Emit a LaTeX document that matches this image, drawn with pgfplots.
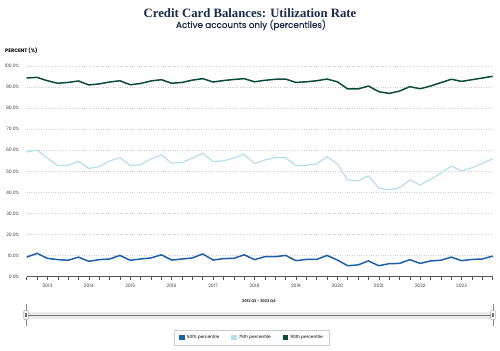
\documentclass[border=0pt]{standalone}
\usepackage{fontspec}
\setmainfont{Liberation Serif}
\setsansfont{Poppins}
\newfontfamily\subfont[FakeBold=0.4]{Poppins}
\usepackage{pgfplots}
\usepackage{pgfplotstable}
\pgfplotsset{compat=1.18}
\definecolor{pFifty}{HTML}{1F5FA8}
\definecolor{pSevfive}{HTML}{B8DCF0}
\definecolor{pNinety}{HTML}{0E4A3B}
\definecolor{navy}{HTML}{1B2A4A}
\definecolor{gridc}{HTML}{CDCDCD}
\definecolor{axc}{HTML}{555555}

\pgfplotstableread{
idx p50 p75 p90
0 9.3 59.2 94.3
1 11.1 60.1 94.6
2 8.7 56.2 93.0
3 8.1 52.8 91.8
4 7.8 52.9 92.2
5 9.3 54.8 92.9
6 7.3 51.4 91.0
7 8.1 52.2 91.5
8 8.4 54.9 92.4
9 10.1 56.5 93.0
10 7.8 52.7 91.1
11 8.4 53.2 91.7
12 8.9 55.9 92.9
13 10.4 57.8 93.5
14 7.9 53.9 91.8
15 8.4 54.2 92.2
16 8.9 56.3 93.3
17 10.8 58.6 94.0
18 7.9 54.6 92.4
19 8.6 55.0 93.1
20 8.7 56.3 93.6
21 10.4 58.1 94.0
22 8.1 53.7 92.5
23 9.5 55.4 93.2
24 9.5 56.5 93.7
25 10.1 56.5 93.8
26 7.6 52.7 92.2
27 8.2 52.9 92.5
28 8.2 53.5 93.0
29 10.1 57.0 93.8
30 7.9 53.5 92.5
31 5.2 45.9 89.1
32 5.6 45.4 89.1
33 7.5 47.9 90.5
34 5.2 42.0 87.8
35 6.2 41.3 87.0
36 6.3 42.2 88.1
37 8.1 45.9 90.2
38 6.3 43.5 89.2
39 7.5 46.2 90.5
40 7.8 49.1 92.1
41 9.3 52.5 93.7
42 7.6 50.2 92.7
43 8.2 51.7 93.5
44 8.4 53.8 94.3
45 9.8 56.0 95.1
}\data

\begin{document}
\begin{tikzpicture}[x=1bp,y=1bp]
\useasboundingbox (0,0) rectangle (500,350);
\node[font=\bfseries\fontsize{12.8}{14}\selectfont, text=navy] at (250,337) {Credit Card Balances: Utilization Rate};
\node[font=\subfont\fontsize{8.8}{10}\selectfont, text=navy] at (251,325) {Active accounts only (percentiles)};
\node[anchor=west, font=\sffamily\bfseries\fontsize{5}{6}\selectfont, text=black, inner sep=0] at (5,299) {PERCENT (\%)};

\begin{axis}[
  at={(26.7bp,73.3bp)}, anchor=south west,
  scale only axis, width=466bp, height=210.7bp,
  xmin=0, xmax=45, ymin=0, ymax=100,
  axis x line*=bottom, axis y line*=left,
  y axis line style={draw=none},
  x axis line style={draw=axc, line width=0.8bp},
  ytick={0,10,...,100},
  yticklabel={\pgfmathprintnumber[fixed,fixed zerofill,precision=1]{\tick}\%},
  ytick style={draw=none},
  ymajorgrids,
  major grid style={gridc, dotted, line width=0.6bp},
  xtick={2,6,...,42},
  xticklabels={2013,2014,2015,2016,2017,2018,2019,2020,2021,2022,2023},
  minor xtick={0,...,45},
  tick align=outside,
  major tick length=3bp, minor tick length=3bp,
  xtick style={draw=axc, line width=0.5bp},
  minor tick style={draw=axc, line width=0.5bp},
  tick label style={font=\sffamily\fontsize{4.6}{5}\selectfont, text=black!75},
  /pgf/number format/assume math mode=true,
  yticklabel style={xshift=-1bp},
  xticklabel style={yshift=-1bp},
  clip=false,
  legend columns=3,
  legend style={at={(axis description cs:0.4835,-0.2886)}, anchor=center,
    draw=gridc, line width=0.5bp, font=\sffamily\fontsize{4.3}{5}\selectfont,
    inner xsep=5bp, inner ysep=3bp,
    /tikz/every even column/.append style={column sep=10bp}},
  legend image code/.code={\fill[#1, draw=none] (0bp,-2.8bp) rectangle (5.6bp,2.8bp);},
]
\addplot[pFifty, line width=1.5bp, line join=round] table[x=idx,y=p50] {\data};
\addlegendentry{50th percentile}
\addplot[pSevfive, line width=1.2bp, line join=round] table[x=idx,y=p75] {\data};
\addlegendentry{75th percentile}
\addplot[pNinety, line width=1.5bp, line join=round] table[x=idx,y=p90] {\data};
\addlegendentry{90th percentile}
\end{axis}

\node[font=\sffamily\bfseries\fontsize{3.8}{4}\selectfont, text=black!80] at (259,49) {2012 Q3 - 2023 Q4};
\fill[black!8] (26,31.5) rectangle (493,38.5);
\draw[black!55, line width=0.6bp] (26,35) -- (493,35);
\foreach \xx in {26,493} {
  \draw[black!45, line width=0.4bp] (\xx,24) -- (\xx,46);
  \filldraw[fill=white, draw=black!55, line width=0.4bp, rounded corners=0.8bp] (\xx-2.2,30.5) rectangle (\xx+2.2,39.5);
  \draw[black!55, line width=0.3bp] (\xx-0.6,33) -- (\xx-0.6,37) (\xx+0.6,33) -- (\xx+0.6,37);
}
\end{tikzpicture}
\end{document}
